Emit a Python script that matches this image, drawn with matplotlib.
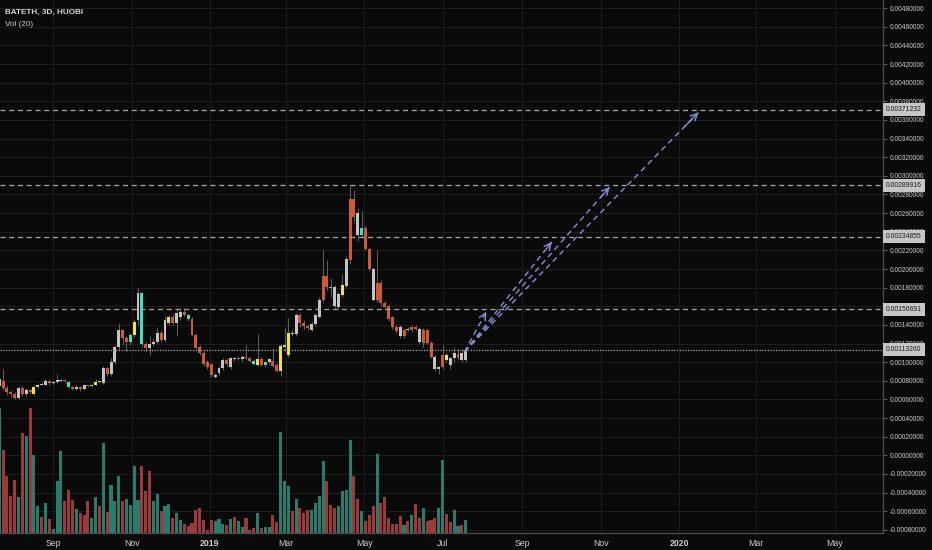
"""BATETH 3D candles (Huobi) with volume, key levels and projected targets."""
import matplotlib
matplotlib.use("Agg")
import matplotlib.pyplot as plt
import matplotlib.dates as mdates
import numpy as np
import pandas as pd

plt.rcParams["font.family"] = ["Liberation Sans", "DejaVu Sans"]

BG = "#0a0a0a"
GRID = "#1c1c1c"
TXT = "#cccccc"
COLS = {"g": "#c4c4c4", "r": "#cc5a36", "y": "#f2e23c", "c": "#3fe0c4"}
VOL_COLS = {"g": "#2a7a6e", "r": "#9a3a3a"}

START = "2018-07-21"          # first 3D candle
UNIT = 1e-5                   # OHLC below are in 1e-5 ETH

# ---- candles (o, h, l, c in 1e-5 ETH) ---------------------------------
opens = [74, 80, 72, 68, 66, 62, 72, 66, 70, 66, 73, 76, 76, 80, 78, 79, 80, 81, 79, 73,
         71, 73, 71, 75, 74, 76, 79, 78, 94, 87, 100, 116, 134, 126, 122, 129, 145, 174, 120, 115,
         120, 122, 131, 124, 142, 149, 142, 148, 154, 146, 146, 129, 116, 110, 100, 98, 84, 88, 94, 102,
         95, 103, 105, 103, 106, 104, 101, 97, 103, 97, 100, 101, 97, 91, 116, 108, 130, 130, 151, 142,
         139, 135, 141, 149, 167, 192, 181, 181, 159, 172, 182, 210, 275, 260, 236, 244, 221, 200, 167, 185,
         164, 160, 148, 138, 138, 128, 136, 134, 138, 136, 121, 134, 121, 106, 93, 95, 108, 97, 104, 104,
         110, 102]
highs = [84, 93, 75, 70, 68, 74, 74, 72, 71, 75, 78, 79, 82, 81, 80, 87, 82, 82, 80, 74,
         75, 74, 76, 76, 77, 82, 81, 96, 95, 105, 118, 142, 136, 128, 131, 146, 180, 175, 122, 128,
         126, 138, 134, 150, 151, 152, 156, 158, 158, 153, 148, 131, 118, 112, 102, 99, 88, 96, 104, 104,
         106, 106, 107, 108, 118, 106, 103, 130, 106, 101, 104, 115, 99, 120, 137, 147, 134, 153, 153, 145,
         141, 143, 153, 170, 220, 210, 190, 183, 175, 195, 214, 290, 285, 265, 262, 246, 223, 202, 220, 188,
         166, 162, 150, 140, 140, 136, 138, 140, 140, 138, 137, 136, 123, 108, 96, 118, 110, 106, 116, 114,
         114, 116]
lows = [72, 70, 65, 63, 60, 60, 64, 64, 66, 65, 72, 75, 75, 76, 77, 78, 79, 78, 72, 70,
        70, 69, 70, 73, 73, 75, 78, 77, 85, 85, 98, 113, 118, 112, 118, 127, 140, 116, 112, 108,
        117, 119, 122, 122, 140, 140, 128, 145, 150, 144, 128, 114, 108, 96, 93, 84, 83, 86, 92, 96,
        93, 101, 102, 101, 103, 100, 97, 96, 96, 95, 98, 95, 89, 85, 112, 106, 128, 128, 138, 136,
        135, 133, 139, 147, 165, 178, 170, 158, 157, 170, 180, 205, 252, 230, 234, 220, 198, 166, 165, 160,
        156, 144, 136, 131, 126, 126, 133, 132, 134, 120, 116, 120, 104, 91, 87, 93, 100, 93, 100, 102,
        100, 100]
closes = [82, 72, 68, 66, 62, 72, 66, 70, 68, 73, 76, 77, 80, 78, 79, 81, 81, 80, 73, 71,
          73, 71, 75, 74, 76, 79, 80, 94, 87, 100, 116, 134, 126, 122, 129, 143, 174, 120, 115, 120,
          122, 131, 124, 145, 149, 142, 153, 154, 151, 151, 129, 115, 110, 98, 95, 86, 86, 94, 102, 98,
          104, 105, 103, 106, 104, 101, 98, 103, 97, 100, 103, 96, 91, 117, 118, 131, 131, 151, 142, 139,
          137, 141, 151, 167, 192, 181, 180, 160, 173, 183, 211, 275, 256, 236, 244, 221, 200, 167, 185, 163,
          159, 146, 138, 133, 128, 134, 134, 138, 136, 122, 135, 121, 106, 93, 95, 108, 102, 104, 110, 109,
          102, 113]
candle_colors = ("grrrrgrgry" "gggrgggrcr" "grgrgyggrg" "ggrrcygcrg" "ggrgyrggrc"
                 "rrrrrrgggr" "ggrgrrcyrc" "grrygyygrr" "rgggrrcggy" "grrgcrrgrr"
                 "rrrrgrgrrg" "rrrggryggr" "g")

# ---- volume (thousand BAT) ---------------------------------------------
volume_k = [125, 83, 57, 37, 53, 36, 100, 97, 125, 78,
            27, 16, 30, 14, 4, 52, 82, 32, 43, 33,
            24, 20, 18, 32, 15, 36, 27, 90, 21, 48,
            32, 57, 32, 34, 28, 67, 33, 67, 42, 62,
            32, 39, 22, 27, 29, 15, 20, 13, 9, 7,
            10, 23, 25, 13, 3, 13, 12, 14, 9, 8,
            14, 16, 12, 6, 15, 3, 5, 20, 5, 6,
            6, 18, 11, 101, 52, 47, 22, 34, 25, 20,
            23, 23, 30, 37, 72, 52, 28, 25, 27, 42,
            43, 93, 57, 34, 22, 12, 18, 27, 79, 30,
            36, 15, 9, 9, 17, 8, 12, 18, 29, 15,
            25, 12, 13, 15, 25, 73, 19, 11, 23, 7,
            8, 13]
volume_colors = ("grrrrgrgrg" "grgrgggrrr" "grrrggrgrg" "ggrggggrrr" "ggrggrggrr"
                 "rrrrrrgggr" "grggrrrgrg" "grrgggrgrr" "rggggrrrgg" "ggrrgrrrgr"
                 "rrrrrgrgrr" "grrrggrrgg" "rg")

# ---- drawings -----------------------------------------------------------
dashed_levels = [0.00371232, 0.00289916, 0.00234855, 0.00156691]
dotted_level = 0.00113260
arrow_start = ("2019-07-18", 0.00111)
arrow_ends = [("2019-08-04", 0.00154), ("2019-09-24", 0.00229),
              ("2019-11-08", 0.00288), ("2020-01-16", 0.00368)]

x_tick_dates = ["2018-09-01", "2018-11-01", "2019-01-01", "2019-03-01", "2019-05-01",
                "2019-07-01", "2019-09-01", "2019-11-01", "2020-01-01", "2020-03-01",
                "2020-05-01"]
x_tick_labels = ["Sep", "Nov", "2019", "Mar", "May", "Jul", "Sep", "Nov", "2020", "Mar", "May"]
y_ticks = np.round(np.arange(-0.0008, 0.00481, 0.0002), 5) + 0.0


def main() -> None:
    n = len(opens)
    dates = mdates.date2num(pd.date_range(START, periods=n, freq="3D"))
    o = np.array(opens) * UNIT
    h = np.array(highs) * UNIT
    l = np.array(lows) * UNIT
    c = np.array(closes) * UNIT

    fig = plt.figure(figsize=(9.32, 5.5), dpi=100, facecolor=BG)
    rect = [0, 17 / 550, 883 / 932, 533 / 550]
    ax = fig.add_axes(rect, facecolor=BG)
    axv = fig.add_axes(rect, facecolor="none", sharex=ax)
    axv.set_zorder(ax.get_zorder() + 1)

    x0 = mdates.date2num(pd.Timestamp("2019-01-01")) - 163.4
    x1 = mdates.date2num(pd.Timestamp("2019-01-01")) + 523.7
    ax.set_xlim(x0, x1)
    ax.set_ylim(-0.000834, 0.004888)

    # grid
    for t in y_ticks:
        ax.axhline(t, color=GRID, lw=0.8, zorder=0)
    for d in x_tick_dates:
        ax.axvline(mdates.date2num(pd.Timestamp(d)), color=GRID, lw=0.8, zorder=0)

    # candles
    ax.vlines(dates, l, h, color="#707070", lw=0.6, zorder=2)
    body_lo = np.minimum(o, c)
    body_h = np.maximum(np.abs(c - o), 0.8 * UNIT)
    ax.bar(dates, body_h, bottom=body_lo, width=2.3,
           color=[COLS[k] for k in candle_colors], lw=0, zorder=3)

    # volume
    vol_frac = 125 / 533
    axv.bar(dates, volume_k, width=2.4, color=[VOL_COLS[k] for k in volume_colors], lw=0)
    axv.set_ylim(0, max(volume_k) / vol_frac)
    axv.axis("off")

    # horizontal levels + price labels
    blend = ax.get_yaxis_transform()
    for lv in dashed_levels:
        ax.axhline(lv, color="#a8a8a8", lw=0.9, ls=(0, (4, 3)), zorder=4)
    ax.axhline(dotted_level, color="#a8a8a8", lw=0.9, ls=(0, (1, 1.2)), zorder=4)
    for lv in dashed_levels + [dotted_level]:
        ax.text(1.0035, lv, f"{lv:.8f}", transform=blend, ha="left", va="center",
                fontsize=4.9, color="#1a1a1a", zorder=10, clip_on=False,
                bbox=dict(boxstyle="square,pad=0.45", facecolor="#c6c6c6", edgecolor="none"))

    # projected target arrows
    arrow_col = "#8a90d8"
    sx = mdates.date2num(pd.Timestamp(arrow_start[0]))
    sy = arrow_start[1]
    for d, py in arrow_ends:
        ex = mdates.date2num(pd.Timestamp(d))
        ax.plot([sx, ex], [sy, py], color=arrow_col, lw=1.0, ls=(0, (4, 3)), zorder=5)
        hx, hy = sx + 0.94 * (ex - sx), sy + 0.94 * (py - sy)
        ax.annotate("", xy=(ex, py), xytext=(hx, hy), zorder=5,
                    arrowprops=dict(arrowstyle="->", color=arrow_col, lw=1.0,
                                    mutation_scale=12, shrinkA=0, shrinkB=0))

    # axes styling
    ax.set_xticks([mdates.date2num(pd.Timestamp(d)) for d in x_tick_dates])
    ax.set_xticklabels(x_tick_labels)
    for lab in ax.get_xticklabels():
        if lab.get_text().startswith("20"):
            lab.set_fontweight("bold")
    ax.set_yticks(y_ticks)
    ax.set_yticklabels([f"{v:.8f}" for v in y_ticks])
    ax.yaxis.set_ticks_position("right")
    ax.tick_params(axis="y", length=3, width=0.6, color="#777777", pad=2,
                   labelsize=4.8, labelcolor=TXT)
    ax.tick_params(axis="x", length=0, pad=4, labelsize=6.3, labelcolor=TXT)
    for side in ("top", "left"):
        ax.spines[side].set_visible(False)
    for side in ("right", "bottom"):
        ax.spines[side].set_color("#4a4a4a")
        ax.spines[side].set_linewidth(1.0)

    fig.text(5 / 932, 1 - 12 / 550, "BATETH, 3D, HUOBI", fontsize=5.9, fontweight="bold",
             color="#d4d4d4", va="center", ha="left")
    fig.text(5 / 932, 1 - 24 / 550, "Vol (20)", fontsize=5.9, color="#cccccc",
             va="center", ha="left")

    fig.savefig("out.png", dpi=100, facecolor=BG)
    plt.close(fig)


if __name__ == "__main__":
    main()
